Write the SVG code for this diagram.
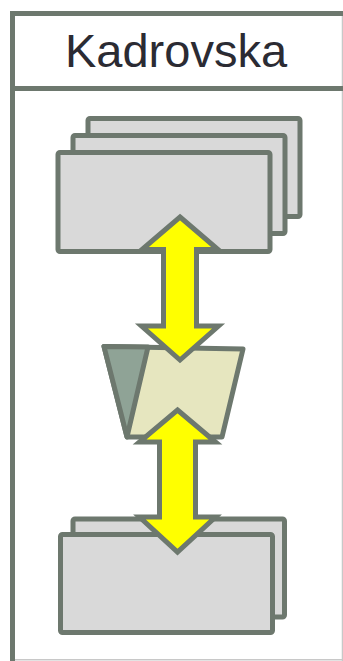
<svg xmlns="http://www.w3.org/2000/svg" width="343" height="661" viewBox="0 0 343 661">
<style>
.frame{fill:none;stroke:#6d786e;stroke-width:5}
.edge{fill:none;stroke:#c8c8c8;stroke-width:1.5}
.doc{fill:#d9d9d9;stroke:#6d786e;stroke-width:5;stroke-linejoin:round}
.arrow{fill:#ffff00;stroke:#6d786e;stroke-width:5;stroke-linejoin:miter}
.trap{fill:#e6e6bf;stroke:#6d786e;stroke-width:5;stroke-linejoin:round}
.tri{fill:#8fa396;stroke:#6d786e;stroke-width:5;stroke-linejoin:round}
.title{font-family:"Liberation Sans",Arial,sans-serif;font-size:47px;fill:#2b2b33}
</style>
<g id="frame">
<line class="edge" x1="342.5" y1="16" x2="342.5" y2="661"/>
<line class="edge" x1="15" y1="659.8" x2="343" y2="659.8"/>
<path class="frame" d="M12.5,661 V13.5 H343"/>
<line class="frame" x1="12.5" y1="88.5" x2="343" y2="88.5"/>
</g>
<g id="title">
<text class="title" x="176" y="66.5" text-anchor="middle">Kadrovska</text>
</g>
<g id="documents-top">
<rect class="doc" x="88" y="118.5" width="212" height="98" rx="2"/>
<rect class="doc" x="73" y="135.5" width="212" height="98" rx="2"/>
<rect class="doc" x="58" y="152.5" width="212" height="99" rx="2"/>
</g>
<g id="manual-operation">
<polygon class="trap" points="104,346.5 243,349 222,437 127,437"/>
<polygon class="tri" points="104,346.5 148,347 127,437"/>
</g>
<g id="documents-bottom">
<rect class="doc" x="73" y="519" width="211.5" height="98" rx="2"/>
<rect class="doc" x="60.5" y="534.5" width="212" height="98" rx="2"/>
</g>
<g id="connectors">
<polygon class="arrow" points="180,217 218,249.5 196.5,249.5 196.5,326 218.5,326 180,360 141.5,326 163.5,326 163.5,249.5 142,249.5"/>
<polygon class="arrow" points="177.5,410 215.5,442 195.5,442 195.5,517 215.5,517 177.5,552 139.5,517 159.5,517 159.5,442 139.5,442"/>
</g>
</svg>
